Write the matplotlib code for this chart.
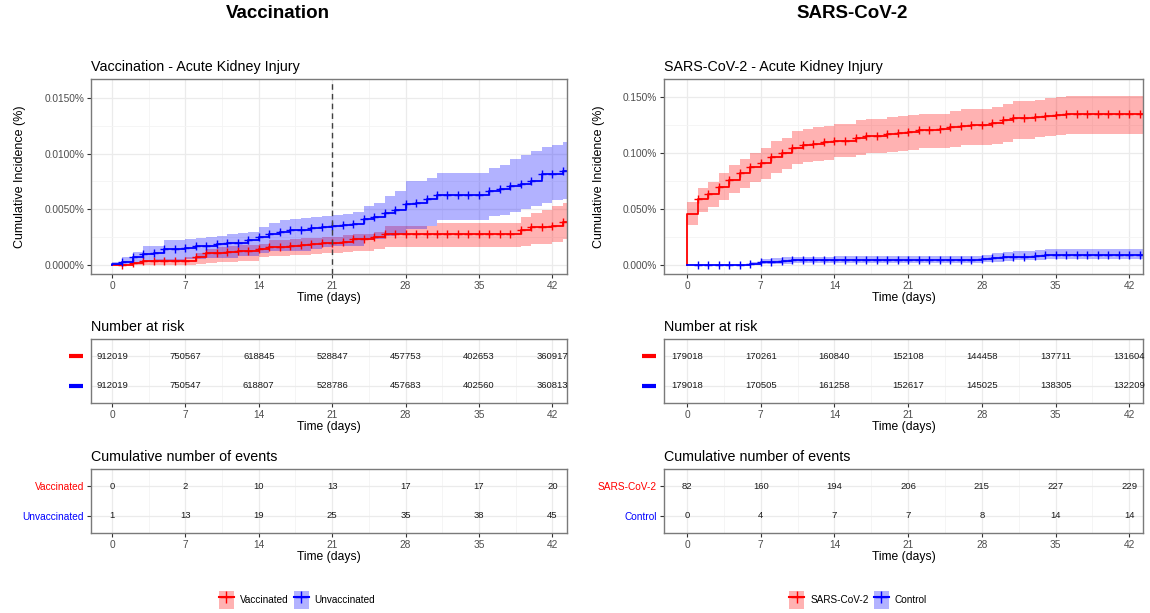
import numpy as np
import matplotlib
matplotlib.use("Agg")
import matplotlib.pyplot as plt
from matplotlib.ticker import MultipleLocator
from matplotlib.patches import Patch
from matplotlib.lines import Line2D

plt.rcParams['font.family'] = ['Liberation Sans', 'DejaVu Sans']

# ---- data (cumulative incidence in %, value held from day d to d+1) ----
days = list(range(44))

vacc_ci = [0, 0, 0.00015, 0.00035, 0.00035, 0.00035, 0.00035, 0.00035, 0.0007, 0.00105,
           0.0011, 0.0012, 0.0013, 0.0013, 0.00143, 0.0016, 0.0016, 0.0017, 0.0018, 0.0019,
           0.002, 0.002, 0.0021, 0.0023, 0.0023, 0.0025, 0.0028, 0.0028, 0.0028, 0.0028,
           0.0028, 0.0028, 0.0028, 0.0028, 0.0028, 0.0028, 0.0028, 0.0028, 0.0028, 0.0031,
           0.0034, 0.0034, 0.0035, 0.0039]
vacc_lo = [0, 0, 0, 0, 0, 0, 0, 0, 0.0001, 0.0002,
           0.00025, 0.0003, 0.00035, 0.00035, 0.0007, 0.0008, 0.0008, 0.0009, 0.0009, 0.001,
           0.0011, 0.0011, 0.0012, 0.0013, 0.0013, 0.0014, 0.0016, 0.0016, 0.0016, 0.0016,
           0.0016, 0.0016, 0.0016, 0.0016, 0.0016, 0.0016, 0.0016, 0.0016, 0.0016, 0.0017,
           0.0019, 0.0019, 0.0021, 0.0023]
vacc_hi = [0, 0, 0.0001, 0.0004, 0.0005, 0.0005, 0.0005, 0.0007, 0.0011, 0.0014,
           0.0016, 0.0017, 0.0018, 0.0018, 0.0019, 0.0022, 0.0022, 0.0023, 0.0024, 0.0024,
           0.0025, 0.0025, 0.0027, 0.0028, 0.0028, 0.003, 0.0035, 0.0035, 0.0035, 0.0035,
           0.0035, 0.0038, 0.0038, 0.0038, 0.0038, 0.0038, 0.0038, 0.0038, 0.0038, 0.0043,
           0.0047, 0.0049, 0.0053, 0.0056]

unvacc_ci = [0.0001, 0.0003, 0.00075, 0.001, 0.0011, 0.00143, 0.00143, 0.0015, 0.0017, 0.0017,
             0.00185, 0.002, 0.002, 0.0022, 0.0025, 0.0028, 0.003, 0.0031, 0.0031, 0.0033,
             0.0034, 0.0035, 0.0036, 0.0037, 0.0041, 0.0043, 0.0047, 0.0049, 0.0055, 0.0056,
             0.0059, 0.0063, 0.0063, 0.0063, 0.0063, 0.0063, 0.0066, 0.0068, 0.0071, 0.0073,
             0.0075, 0.0082, 0.0082, 0.0084]
unvacc_lo = [0, 0, 0.0001, 0.00025, 0.00025, 0.00035, 0.00035, 0.0005, 0.0005, 0.0006,
             0.0006, 0.0006, 0.0008, 0.0008, 0.0011, 0.0013, 0.0013, 0.0013, 0.0013, 0.0014,
             0.0016, 0.0017, 0.0017, 0.0017, 0.0022, 0.0023, 0.0026, 0.0028, 0.0032, 0.0032,
             0.0035, 0.004, 0.004, 0.004, 0.004, 0.004, 0.0044, 0.0045, 0.0048, 0.005,
             0.0053, 0.0056, 0.0058, 0.0059]
unvacc_hi = [0.0003, 0.0007, 0.0012, 0.0017, 0.0017, 0.0022, 0.0022, 0.0023, 0.0024, 0.0025,
             0.0026, 0.0028, 0.0029, 0.003, 0.0034, 0.0038, 0.004, 0.0041, 0.0042, 0.0043,
             0.0044, 0.0045, 0.0046, 0.0048, 0.0053, 0.0056, 0.0062, 0.0066, 0.0075, 0.0075,
             0.0078, 0.0083, 0.0083, 0.0083, 0.0083, 0.0083, 0.0087, 0.009, 0.0095, 0.0099,
             0.0102, 0.0106, 0.0108, 0.011]

sars_ci = [0.0456, 0.059, 0.0635, 0.07, 0.076, 0.082, 0.0876, 0.091, 0.0965, 0.1,
           0.104, 0.107, 0.108, 0.11, 0.111, 0.111, 0.1135, 0.115, 0.115, 0.117,
           0.118, 0.119, 0.1206, 0.1206, 0.1215, 0.123, 0.1244, 0.125, 0.125, 0.1265,
           0.129, 0.131, 0.131, 0.132, 0.133, 0.1335, 0.1344, 0.1344, 0.1344, 0.1344,
           0.1344, 0.1344, 0.1344, 0.1344]
sars_lo = [0.036, 0.047, 0.052, 0.058, 0.064, 0.069, 0.074, 0.077, 0.082, 0.086,
           0.09, 0.092, 0.093, 0.094, 0.096, 0.096, 0.098, 0.1, 0.1, 0.101,
           0.102, 0.1025, 0.104, 0.104, 0.104, 0.105, 0.107, 0.107, 0.107, 0.108,
           0.11, 0.1125, 0.1125, 0.114, 0.115, 0.116, 0.117, 0.117, 0.117, 0.117,
           0.117, 0.117, 0.117, 0.117]
sars_hi = [0.056, 0.069, 0.074, 0.082, 0.089, 0.095, 0.1, 0.104, 0.111, 0.113,
           0.12, 0.121, 0.123, 0.124, 0.126, 0.126, 0.129, 0.13, 0.13, 0.132,
           0.133, 0.134, 0.135, 0.135, 0.135, 0.137, 0.139, 0.139, 0.139, 0.141,
           0.144, 0.146, 0.146, 0.147, 0.149, 0.15, 0.151, 0.151, 0.151, 0.151,
           0.151, 0.151, 0.151, 0.151]

ctrl_ci = [0, 0, 0, 0, 0, 0, 0.0011, 0.0023, 0.003, 0.0036,
           0.0042, 0.0042, 0.0042, 0.0042, 0.0043, 0.0043, 0.0043, 0.0043, 0.0043, 0.0043,
           0.0043, 0.0043, 0.0043, 0.0043, 0.0043, 0.0043, 0.0043, 0.0043, 0.0049, 0.006,
           0.0067, 0.0074, 0.0074, 0.008, 0.0091, 0.0093, 0.0093, 0.0093, 0.0093, 0.0093,
           0.0093, 0.0093, 0.0093, 0.0093]
ctrl_lo = [0, 0, 0, 0, 0, 0, 0, 0.0005, 0.0008, 0.001,
           0.0015, 0.0015, 0.0015, 0.0015, 0.0017, 0.0017, 0.0017, 0.0017, 0.0017, 0.0017,
           0.0017, 0.0017, 0.0017, 0.0017, 0.0017, 0.0017, 0.0017, 0.0017, 0.0022, 0.003,
           0.0035, 0.004, 0.004, 0.0045, 0.0053, 0.0055, 0.0055, 0.0055, 0.0055, 0.0055,
           0.0055, 0.0055, 0.0055, 0.0055]
ctrl_hi = [0, 0, 0, 0, 0, 0, 0.003, 0.0052, 0.006, 0.0068,
           0.0075, 0.0075, 0.0075, 0.0075, 0.0077, 0.0077, 0.0077, 0.0077, 0.0077, 0.0077,
           0.0077, 0.0077, 0.0077, 0.0077, 0.0077, 0.0077, 0.0077, 0.0077, 0.0088, 0.0106,
           0.0114, 0.0125, 0.0125, 0.013, 0.014, 0.0145, 0.0145, 0.0145, 0.0145, 0.0145,
           0.0145, 0.0145, 0.0145, 0.0145]

risk_days = [0, 7, 14, 21, 28, 35, 42]
vacc_risk = [912019, 750567, 618845, 528847, 457753, 402653, 360917]
unvacc_risk = [912019, 750547, 618807, 528786, 457683, 402560, 360813]
sars_risk = [179018, 170261, 160840, 152108, 144458, 137711, 131604]
ctrl_risk = [179018, 170505, 161258, 152617, 145025, 138305, 132209]

vacc_events = [0, 2, 10, 13, 17, 17, 20]
unvacc_events = [1, 13, 19, 25, 35, 38, 45]
sars_events = [82, 160, 194, 206, 215, 227, 229]
ctrl_events = [0, 4, 7, 7, 8, 14, 14]

RED = '#FF0000'
BLUE = '#0000FF'
W, H = 1150, 613


def px_axes(fig, x0, x1, y0, y1):
    return fig.add_axes([x0 / W, 1 - y1 / H, (x1 - x0) / W, (y1 - y0) / H])


def style(ax, xlim):
    ax.set_xlim(*xlim)
    ax.xaxis.set_major_locator(MultipleLocator(7))
    ax.xaxis.set_minor_locator(MultipleLocator(3.5))
    ax.grid(True, which='major', color='#EBEBEB', lw=0.9)
    ax.grid(True, which='minor', color='#F4F4F4', lw=0.6)
    ax.set_axisbelow(True)
    for s in ax.spines.values():
        s.set_color('#7A7A7A')
        s.set_linewidth(1.0)
    ax.tick_params(which='major', length=3, color='#333333', labelsize=7.3,
                   labelcolor='#4D4D4D', pad=2)
    ax.tick_params(which='minor', length=0)
    ax.set_xlabel('Time (days)', fontsize=8.7, labelpad=1)


def km(ax, y, lo, hi, color, xmax):
    x = days + [xmax]
    y2 = y + [y[-1]]
    ax.fill_between(x, lo + [lo[-1]], hi + [hi[-1]], step='post', color=color,
                    alpha=0.3, lw=0)
    ax.step([0] + x, [0] + y2, where='post', color=color, lw=1.3)
    ax.plot(days[1:], y[1:], ls='none', marker='+', ms=6, mew=1.0, color=color)


def panel(fig, x0, x1, xlim, title, big, xc, curves, ylim, yticks, yfmt,
          risks, events, names, leg_x, vline=None):
    fig.text(xc / W, 1 - 14 / H, big, ha='center', va='center', fontsize=13.5,
             fontweight='bold')
    ax = px_axes(fig, x0, x1, 79, 274)
    for c in curves:
        km(ax, *c, xlim[1] + 1)
    style(ax, xlim)
    ax.set_ylim(*ylim)
    ax.set_yticks(yticks)
    ax.set_yticklabels([yfmt.format(v) for v in yticks])
    ax.yaxis.set_minor_locator(MultipleLocator((yticks[1] - yticks[0]) / 2))
    if vline is not None:
        ax.axvline(vline, color='#404040', lw=1, dashes=(4, 3))
    ax.set_ylabel('Cumulative Incidence (%)', fontsize=9, labelpad=13)
    ax.set_title(title, loc='left', fontsize=10.3, pad=6)

    # number at risk
    ar = px_axes(fig, x0, x1, 339, 403)
    style(ar, xlim)
    ar.set_ylim(-0.57, 1.57)
    ar.set_yticks([0, 1])
    ar.set_yticklabels(['', ''])
    ar.tick_params(axis='y', length=0)
    ar.set_xticks(risk_days)
    for row, vals in [(1, risks[0]), (0, risks[1])]:
        for d, v in zip(risk_days, vals):
            ar.text(d, row, str(v), ha='center', va='center', fontsize=6.8,
                    color='#1A1A1A')
    for row, col in [(1, RED), (0, BLUE)]:
        ar.plot([-0.046, -0.017], [row, row], transform=ar.get_yaxis_transform(),
                color=col, lw=3, clip_on=False, solid_capstyle='butt')
    ar.set_title('Number at risk', loc='left', fontsize=10.3, pad=6)

    # cumulative events
    ae = px_axes(fig, x0, x1, 469, 533)
    style(ae, xlim)
    ae.set_ylim(-0.57, 1.57)
    ae.set_yticks([0, 1])
    ae.set_yticklabels([names[1], names[0]])
    for lab, col in zip(ae.get_yticklabels(), [BLUE, RED]):
        lab.set_color(col)
    ae.set_xticks(risk_days)
    for row, vals in [(1, events[0]), (0, events[1])]:
        for d, v in zip(risk_days, vals):
            ae.text(d, row, str(v), ha='center', va='center', fontsize=6.8,
                    color='#1A1A1A')
    ae.set_title('Cumulative number of events', loc='left', fontsize=10.3, pad=6)

    handles = [(Patch(facecolor=RED, alpha=0.3), Line2D([], [], color=RED, marker='+', ms=8)),
               (Patch(facecolor=BLUE, alpha=0.3), Line2D([], [], color=BLUE, marker='+', ms=8))]
    fig.legend(handles, names, loc='center', bbox_to_anchor=(leg_x / W, 1 - 600 / H),
               ncol=2, frameon=False, fontsize=7.2, handlelength=1.5, handleheight=2.5,
               handletextpad=0.6, columnspacing=0.5)


fig = plt.figure(figsize=(11.5, 6.13), dpi=100)

panel(fig, 91, 567, (-2.0, 43.4), 'Vaccination - Acute Kidney Injury', 'Vaccination', 278,
      [(vacc_ci, vacc_lo, vacc_hi, RED), (unvacc_ci, unvacc_lo, unvacc_hi, BLUE)],
      (-0.00081, 0.0167), [0, 0.005, 0.01, 0.015], '{:.4f}%',
      (vacc_risk, unvacc_risk), (vacc_events, unvacc_events),
      ['Vaccinated', 'Unvaccinated'], 297, vline=21)

panel(fig, 664, 1143, (-2.19, 43.3), 'SARS-CoV-2 - Acute Kidney Injury', 'SARS-CoV-2', 852,
      [(sars_ci, sars_lo, sars_hi, RED), (ctrl_ci, ctrl_lo, ctrl_hi, BLUE)],
      (-0.0081, 0.166), [0, 0.05, 0.1, 0.15], '{:.3f}%',
      (sars_risk, ctrl_risk), (sars_events, ctrl_events),
      ['SARS-CoV-2', 'Control'], 858)

fig.savefig('out.png', dpi=100)
